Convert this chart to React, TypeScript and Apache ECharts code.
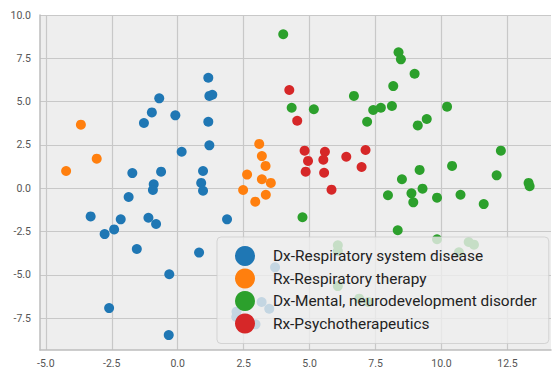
import React, { useEffect, useRef } from "react";
import * as echarts from "echarts";

const seriesNames = [
  "Dx-Respiratory system disease",
  "Rx-Respiratory therapy",
  "Dx-Mental, neurodevelopment disorder",
  "Rx-Psychotherapeutics",
];
const seriesColors = ["#1f77b4", "#ff7f0e", "#2ca02c", "#d62728"];

const dxRespiratory: number[][] = [
  [1.16, 6.38], [-0.7, 5.19], [-0.98, 4.38], [-1.28, 3.77], [-0.09, 4.21],
  [1.2, 5.33], [1.31, 5.4], [1.16, 3.84], [1.2, 2.48], [0.15, 2.11],
  [-1.72, 0.88], [-0.63, 0.96], [0.96, 1.0], [-0.91, 0.23], [0.89, 0.31],
  [-0.94, -0.1], [0.96, -0.14], [-1.86, -0.5], [-3.3, -1.62], [-2.16, -1.79],
  [-1.11, -1.7], [-0.82, -2.06], [-2.77, -2.64], [-2.41, -2.37], [-1.55, -3.5],
  [0.81, -3.71], [1.87, -1.79], [-0.32, -4.96], [-2.6, -6.91], [-0.34, -8.47],
  [3.69, -4.56], [3.18, -6.56], [3.47, -6.95], [2.23, -7.12], [2.22, -7.42],
  [2.95, -7.85],
];

const rxRespiratory: number[][] = [
  [-3.67, 3.67], [-3.07, 1.71], [-4.23, 1.0], [3.09, 2.56], [3.19, 1.86],
  [3.33, 1.29], [2.63, 0.79], [3.19, 0.52], [3.53, 0.31], [2.48, -0.1],
  [3.34, -0.37], [2.94, -0.77],
];

const dxMental: number[][] = [
  [4.0, 8.89], [8.37, 7.85], [8.46, 7.44], [8.98, 6.61], [8.17, 5.9],
  [6.68, 5.33], [4.32, 4.65], [5.16, 4.56], [7.41, 4.52], [7.7, 4.65],
  [8.12, 4.75], [10.21, 4.71], [7.18, 3.84], [9.44, 4.0], [9.1, 3.63],
  [12.25, 2.17], [10.4, 1.29], [9.17, 1.06], [8.5, 0.52], [12.09, 0.75],
  [13.3, 0.31], [13.34, 0.12], [9.28, -0.02], [7.97, -0.4], [8.86, -0.29],
  [8.93, -0.81], [9.83, -0.54], [10.72, -0.37], [11.6, -0.91], [4.73, -1.67],
  [8.34, -2.42], [6.07, -3.29], [6.07, -3.62], [9.83, -2.94], [11.03, -3.1],
  [11.23, -3.25], [10.66, -3.69], [6.07, -5.64], [6.88, -6.37], [7.23, -6.56],
];

const rxPsycho: number[][] = [
  [4.23, 5.67], [4.53, 3.9], [4.81, 2.17], [5.58, 2.11], [4.94, 1.58],
  [5.52, 1.65], [6.39, 1.82], [7.12, 2.21], [4.85, 0.96], [5.55, 0.9],
  [6.97, 1.23], [5.83, -0.08],
];

const xTicks = [-5, -2.5, 0, 2.5, 5, 7.5, 10, 12.5];
const yTicks = [-7.5, -5, -2.5, 0, 2.5, 5, 7.5, 10];

const FONT = "Roboto, 'DejaVu Sans', sans-serif";

export default function App() {
  const ref = useRef<HTMLDivElement>(null);
  useEffect(() => {
    if (!ref.current) return;
    const chart = echarts.init(ref.current, undefined, { renderer: "svg" });
    const allData = [dxRespiratory, rxRespiratory, dxMental, rxPsycho];
    const gridColor = "#c8c8c8";
    const axisCommon = {
      type: "value" as const,
      axisLine: { show: true, onZero: false, lineStyle: { color: "#bdbdbd", width: 1.5 } },
      splitLine: { show: true, lineStyle: { color: gridColor, width: 1.2 } },
    };
    chart.setOption({
      animation: false,
      backgroundColor: "#ffffff",
      grid: { left: 40, top: 15, right: 2, bottom: 19, show: true, backgroundColor: "#eeeeee", borderWidth: 0 },
      xAxis: {
        ...axisCommon,
        min: -5.22,
        max: 14.15,
        axisTick: { show: false, customValues: xTicks },
        axisLabel: {
          customValues: xTicks,
          formatter: (v: number) => v.toFixed(1),
          color: "#555555",
          fontSize: 10.5,
          fontFamily: FONT,
          margin: 8,
        },
      },
      yAxis: {
        ...axisCommon,
        min: -9.33,
        max: 10,
        axisTick: { show: false, customValues: yTicks },
        axisLabel: {
          customValues: yTicks,
          formatter: (v: number) => v.toFixed(1),
          color: "#555555",
          fontSize: 10.5,
          fontFamily: FONT,
          margin: 9,
        },
      },
      legend: {
        orient: "vertical",
        left: 217,
        top: 237,
        padding: [9, 12, 10, 18],
        itemGap: 2.5,
        itemWidth: 20,
        itemHeight: 20,
        icon: "circle",
        backgroundColor: "rgba(238,238,238,0.8)",
        borderColor: "rgba(204,204,204,0.8)",
        borderWidth: 1,
        borderRadius: 4,
        textStyle: {
          color: "#222222",
          fontSize: 15.4,
          fontFamily: FONT,
          padding: [0, 0, 0, 13],
        },
        data: seriesNames,
      },
      series: seriesNames.map((name, i) => ({
        type: "scatter",
        name,
        data: allData[i],
        symbolSize: 10,
        itemStyle: { color: seriesColors[i], opacity: 1 },
        emphasis: { disabled: true },
      })),
    });
    return () => chart.dispose();
  }, []);
  return (
    <div
      ref={ref}
      style={{ position: "fixed", left: 0, top: 0, width: 553, height: 369 }}
    />
  );
}
